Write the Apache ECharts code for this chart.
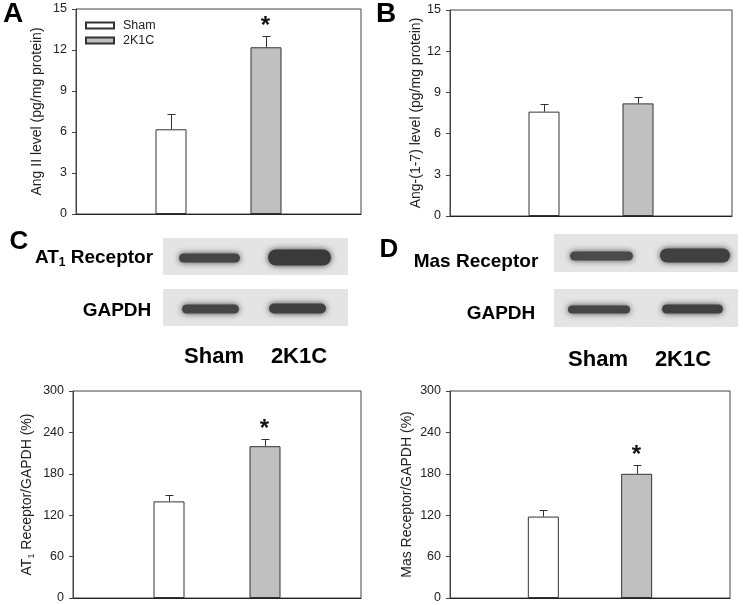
<!DOCTYPE html>
<html><head><meta charset="utf-8">
<script src="https://cdn.jsdelivr.net/npm/echarts@6/dist/echarts.min.js"></script>
<style>html,body{margin:0;padding:0;background:#fff}#c{width:743px;height:605px}</style>
</head><body><div id="c"></div>
<script>
// ---- data ----
const groups = ['Sham', '2K1C'];
const angIIMean = [6.2, 12.2];
const angIIUpper = [7.3, 13.0];
const angIISig = [0, 1];
const ang17Mean = [7.6, 8.2];
const ang17Upper = [8.15, 8.65];
const ang17Sig = [0, 0];
const at1Mean = [140, 220];
const at1Upper = [150, 231];
const at1Sig = [0, 1];
const masMean = [118, 180];
const masUpper = [127, 193];
const masSig = [0, 1];
const ticksAB = [0, 3, 6, 9, 12, 15];
const ticksCD = [0, 60, 120, 180, 240, 300];

const FONT = 'Liberation Sans, Arial, sans-serif';
const barColors = ['#ffffff', '#c0c0c0'];
const axisCats = [''].concat(groups, ['']);

const grids = [
  {left: 76, top: 9, width: 285, height: 205},
  {left: 450, top: 10, width: 282, height: 206},
  {left: 73, top: 391, width: 288, height: 207},
  {left: 450, top: 391, width: 280, height: 207}
];

function renderErr(params, api) {
  const x = api.value(0), m = api.value(1), u = api.value(2), s = api.value(3);
  const a = api.coord([x, m]), b = api.coord([x, u]);
  const cx = Math.round(a[0]) + 0.5, ty = Math.round(b[1]) + 0.5;
  const ch = [
    {type: 'line', shape: {x1: cx, y1: a[1], x2: cx, y2: ty}, style: {stroke: '#333', lineWidth: 1}},
    {type: 'line', shape: {x1: cx - 4, y1: ty, x2: cx + 4, y2: ty}, style: {stroke: '#333', lineWidth: 1}}
  ];
  if (s) ch.push({type: 'text', x: cx - 1, y: ty + 2, style: {text: '*', font: 'bold 24px ' + FONT, fill: '#111', align: 'center', verticalAlign: 'bottom'}});
  return {type: 'group', children: ch};
}

const panels = [
  {mean: angIIMean, upper: angIIUpper, sig: angIISig, ticks: ticksAB, name: 'Ang II level (pg/mg protein)', gap: 32},
  {mean: ang17Mean, upper: ang17Upper, sig: ang17Sig, ticks: ticksAB, name: 'Ang-(1-7) level (pg/mg protein)', gap: 26},
  {mean: at1Mean, upper: at1Upper, sig: at1Sig, ticks: ticksCD, name: '{n|AT}{s|1}{n| Receptor/GAPDH (%)}', gap: 37},
  {mean: masMean, upper: masUpper, sig: masSig, ticks: ticksCD, name: 'Mas Receptor/GAPDH (%)', gap: 36}
];

const xAxis = [], yAxis = [], series = [];
panels.forEach((p, i) => {
  xAxis.push({type: 'category', gridIndex: i, data: axisCats, boundaryGap: false,
    axisLine: {show: true, lineStyle: {color: '#222', width: 1}}, axisTick: {show: false}, axisLabel: {show: false}, splitLine: {show: false}});
  const tmax = p.ticks[p.ticks.length - 1];
  yAxis.push({type: 'value', gridIndex: i, min: p.ticks[0], max: tmax, interval: p.ticks[1] - p.ticks[0],
    axisLine: {show: true, lineStyle: {color: '#444'}}, axisTick: {show: true, inside: false, length: 4, lineStyle: {color: '#444'}},
    axisLabel: {fontFamily: FONT, fontSize: 12.5, color: '#222', margin: 9},
    splitLine: {show: false},
    name: p.name, nameLocation: 'middle', nameGap: p.gap,
    nameTextStyle: {fontFamily: FONT, fontSize: 14, color: '#222',
      rich: {n: {fontFamily: FONT, fontSize: 14, color: '#222', lineHeight: 18, verticalAlign: 'middle'},
             s: {fontFamily: FONT, fontSize: 9, color: '#222', lineHeight: 18, verticalAlign: 'bottom', padding: [6, 0, 0, 0]}}}
  });
  groups.forEach((g, k) => {
    const d = axisCats.map((c, j) => j === k + 1 ? p.mean[k] : '-');
    series.push({type: 'bar', name: g, xAxisIndex: i, yAxisIndex: i, data: d, barWidth: 31, barGap: '-100%',
      itemStyle: {color: barColors[k], borderColor: '#333', borderWidth: 1}, silent: true, animation: false});
  });
  series.push({type: 'custom', xAxisIndex: i, yAxisIndex: i, z: 5, renderItem: renderErr, animation: false, silent: true,
    data: groups.map((g, k) => [k + 1, p.mean[k], p.upper[k], p.sig[k]])});
});

// western blot decorations
function blotBg(x, y, w, h) {
  return {type: 'rect', shape: {x: x, y: y, width: w, height: h}, style: {fill: '#e4e4e4'}, silent: true};
}
function band(x, y, w, h, c) {
  return {type: 'rect', shape: {x: x + 2, y: y + 0.5, width: w - 4, height: h - 1, r: (h - 1) / 2},
    style: {fill: c, shadowBlur: 6, shadowColor: c}, silent: true};
}
function txt(x, y, t, size, align, rich) {
  const st = {text: t, font: 'bold ' + size + 'px ' + FONT, fill: '#000', align: align || 'center', verticalAlign: 'middle'};
  if (rich) st.rich = rich;
  return {type: 'text', x: x, y: y, style: st, silent: true};
}
const subRich = {
  n: {font: 'bold 19px ' + FONT, fill: '#000', lineHeight: 22, verticalAlign: 'middle'},
  s: {font: 'bold 12px ' + FONT, fill: '#000', lineHeight: 22, verticalAlign: 'bottom', padding: [8, 0, 0, 0]}
};
const graphic = [
  blotBg(163, 238, 185, 37), blotBg(163, 289, 185, 37),
  band(177, 253, 65, 10, '#454545'), band(266, 249, 67, 17, '#3a3a3a'),
  band(180, 304, 61, 10, '#454545'), band(267, 303, 61, 11, '#404040'),
  blotBg(554, 234, 184, 38), blotBg(554, 289, 184, 38),
  band(568, 251, 67, 10, '#4a4a4a'), band(658, 248, 74, 15, '#404040'),
  band(566, 305, 66, 9, '#454545'), band(660, 304, 65, 10, '#404040'),
  txt(13, 14, 'A', 28), txt(386, 14, 'B', 28), txt(19, 242, 'C', 26), txt(389, 250, 'D', 26),
  txt(94, 258, '{n|AT}{s|1}{n| Receptor}', 19, 'center', subRich),
  txt(117, 311, 'GAPDH', 19),
  txt(476, 262, 'Mas Receptor', 19),
  txt(501, 314, 'GAPDH', 19),
  txt(214, 357, 'Sham', 22), txt(299, 357, '2K1C', 22),
  txt(598, 360, 'Sham', 22), txt(683, 360, '2K1C', 22)
];

const chart = echarts.init(document.getElementById('c'), null, {renderer: 'canvas'});
chart.setOption({
  animation: false,
  backgroundColor: '#fff',
  grid: grids.map(g => Object.assign({show: true, borderColor: '#444', borderWidth: 1, backgroundColor: 'transparent', containLabel: false}, g)),
  legend: {data: groups, orient: 'vertical', left: 85, top: 19, padding: 0, itemWidth: 28, itemHeight: 6, itemGap: 2, icon: 'rect',
    textStyle: {fontFamily: FONT, fontSize: 12.5, color: '#222', padding: [0, 0, 0, 4]}, selectedMode: false},
  xAxis: xAxis, yAxis: yAxis, series: series, graphic: graphic
});
</script></body></html>
